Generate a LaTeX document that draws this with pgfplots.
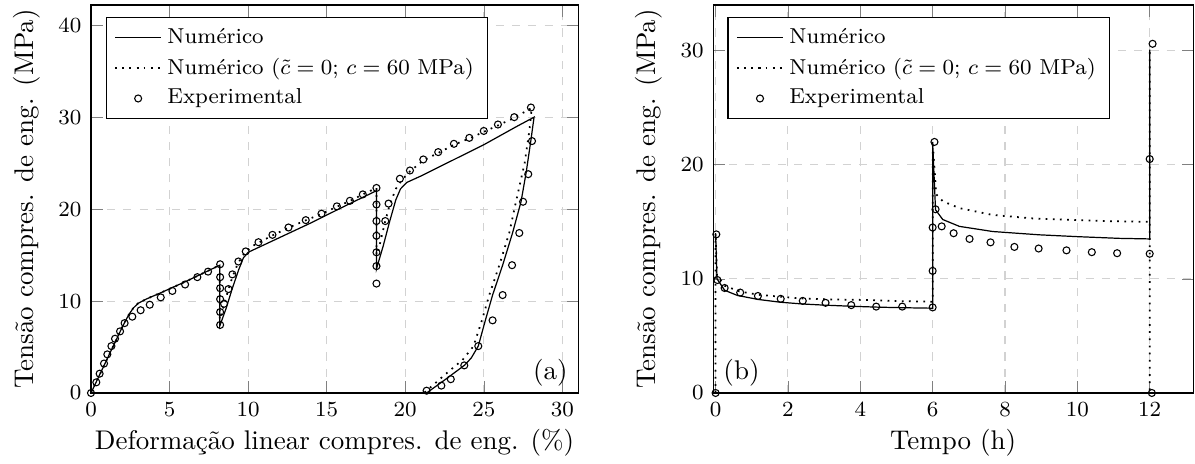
\documentclass[border=0pt]{standalone}
\usepackage{pgfplots}
\pgfplotsset{compat=1.18}

% experimental data, left plot (strain %, stress MPa)
\pgfplotstableread{
x y
0 0
0.34 1.16
0.55 2.1
0.83 3.2
1.04 4.2
1.3 5.1
1.53 5.9
1.85 6.7
2.14 7.6
2.63 8.3
3.16 9.0
3.74 9.6
4.44 10.4
5.18 11.1
5.99 11.8
6.77 12.6
7.45 13.2
8.22 14.0
8.22 12.6
8.22 11.4
8.22 10.2
8.22 8.8
8.22 7.4
8.47 9.7
8.75 11.3
9.0 12.9
9.38 14.3
9.85 15.4
10.66 16.4
11.55 17.2
12.57 18.0
13.67 18.8
14.67 19.5
15.65 20.3
16.48 20.9
17.3 21.6
18.17 22.3
18.17 20.5
18.17 18.7
18.17 17.1
18.17 15.3
18.17 13.8
18.17 11.9
18.73 18.7
18.94 20.6
19.66 23.3
20.3 24.2
21.15 25.4
22.1 26.2
23.1 27.1
24.08 27.75
25.0 28.5
25.9 29.2
26.94 30.0
28.0 31.05
28.07 27.4
27.83 23.8
27.5 20.8
27.26 17.4
26.8 13.9
26.2 10.65
25.56 7.9
24.65 5.1
23.76 3.0
22.9 1.5
22.3 0.8
21.36 0.25
}\expA

% experimental data, right plot (time h, stress MPa)
\pgfplotstableread{
x y
0.0 0
0.02 13.9
0.05 9.9
0.25 9.2
0.68 8.8
1.17 8.5
1.8 8.25
2.41 8.07
3.04 7.9
3.75 7.7
4.44 7.57
5.16 7.57
6.0 7.5
6.0 10.7
6.0 14.5
6.05 22.0
6.08 16.1
6.25 14.6
6.58 14.0
7.02 13.5
7.6 13.2
8.26 12.8
8.93 12.66
9.7 12.5
10.4 12.34
11.1 12.25
12.0 12.2
12.0 20.5
12.08 30.6
12.06 0
}\expB

\begin{document}
\begin{tikzpicture}
\pgfplotsset{
  painel/.style={
    scale only axis,
    height=143.7pt,
    ymin=0,
    grid=major,
    grid style={dashed, gray!35},
    label style={font=\normalsize},
    xlabel style={yshift=2pt},
    tick label style={font=\footnotesize},
    legend pos=north west,
    legend cell align=left,
    legend style={font=\footnotesize},
  },
  num/.style={black, line width=0.45pt, no marks},
  numc/.style={black, line width=0.65pt, dotted, no marks},
  expt/.style={black, only marks, mark=o, mark size=1.3pt, mark options={line width=0.4pt}},
}

\begin{axis}[painel,
    width=180.4pt,
    xmin=0, xmax=31, ymax=42.2,
    xtick={0,5,...,30}, ytick={0,10,...,40},
    xlabel={Deformação linear compres. de eng. (\%)},
    ylabel={Tensão compres. de eng. (MPa)},
]
\addplot[num] coordinates {
(0,0) (0.5,1.8) (1,3.6) (1.5,5.4) (2,7.2) (2.4,8.5) (2.7,9.25) (3.0,9.75)
(3.5,10.2) (4.44,10.9) (6,12.1) (8.2,13.9) (8.2,7.3) (8.6,9.2) (9.0,11.4)
(9.4,13.4) (9.7,14.7) (10.0,15.3) (10.5,15.7) (12,16.9) (14,18.5) (16,20.2)
(18.17,22.0) (18.17,13.5) (18.6,16.0) (19.0,18.6) (19.4,21.0) (19.7,22.2)
(20.1,22.9) (21,23.6) (23,25.3) (25,27.0) (27,28.9) (28.2,30.0)
(28.0,27.5) (27.7,24.0) (27.37,20.8) (26.83,17.4) (26.2,13.9) (25.56,10.65)
(25.1,7.9) (24.65,5.1) (24.2,3.8) (23.76,3.0) (22.5,1.4) (21.36,0)
};
\addlegendentry{Numérico}
\addplot[numc] coordinates {
(0,0) (0.5,1.8) (1,3.6) (1.5,5.4) (2,7.2) (2.4,8.5) (2.7,9.25) (3.0,9.75)
(3.5,10.2) (4.44,10.9) (6,12.1) (8.2,13.9) (8.2,8.0) (8.4,9.2) (8.7,11.0)
(9.0,12.6) (9.35,14.1) (9.8,15.3) (10.4,16.1) (11.5,17.1) (12.6,18.0)
(13.7,18.8) (14.7,19.5) (15.7,20.3) (16.5,20.9) (17.3,21.6) (18.17,22.3)
(18.17,15.0) (18.4,16.3) (18.7,18.5) (19.0,20.4) (19.4,22.2) (19.8,23.2)
(20.3,24.1) (21.15,25.3) (22.1,26.1) (23.1,27.0) (24.1,27.7) (25,28.4)
(25.9,29.1) (26.9,29.9) (28.05,31.0) (27.9,28.5) (27.6,25.0) (27.05,20.8)
(26.62,17.4) (25.99,13.9) (25.35,10.65) (24.88,7.9) (24.35,5.1) (23.65,3.6)
(22.6,2.1) (21.2,0)
};
\addlegendentry{Numérico ($\tilde{c}=0$; $c=60$ MPa)}
\addplot[expt] table[x=x, y=y] {\expA};
\addlegendentry{Experimental}
\node[anchor=south east, font=\normalsize, inner sep=1pt] at (rel axis cs:0.985,0.01) {(a)};
\end{axis}

\begin{axis}[painel,
    at={(230.4pt,0)},
    width=177.8pt,
    xmin=-0.07, xmax=13.2, ymax=34,
    xtick={0,2,...,12}, ytick={0,10,...,30},
    xlabel={Tempo (h)},
    ylabel={Tensão compres. de eng. (MPa)},
]
\addplot[num] coordinates {
(0,14.0) (0.04,10.0) (0.25,9.0) (0.6,8.55) (1.17,8.2) (1.8,7.95) (2.4,7.8)
(3.0,7.7) (3.75,7.6) (4.5,7.52) (5.2,7.47) (6.0,7.43) (6.0,22.0) (6.08,16.05)
(6.28,15.2) (6.74,14.6) (7.66,14.15) (8.95,13.86) (10,13.7) (11.16,13.55)
(12.0,13.5) (12.0,30.1)
};
\addlegendentry{Numérico}
\addplot[numc] coordinates {
(0,0) (0,14.0) (0.04,10.3) (0.25,9.4) (0.66,8.9) (1.2,8.6) (2.3,8.3) (3.2,8.2)
(4.16,8.15) (5.0,8.05) (5.9,8.0) (6.0,8.0) (6.0,22.0) (6.1,17.4) (6.28,16.8)
(6.74,16.2) (7.66,15.6) (8.76,15.3) (10,15.15) (11.0,15.05) (11.9,15.0)
(12.0,15.0) (12.0,30.1) (12.0,0)
};
\addlegendentry{Numérico ($\tilde{c}=0$; $c=60$ MPa)}
\addplot[expt] table[x=x, y=y] {\expB};
\addlegendentry{Experimental}
\node[anchor=south west, font=\normalsize, inner sep=1pt] at (rel axis cs:0.015,0.01) {(b)};
\end{axis}
\pgfresetboundingbox
\path[use as bounding box] (-33.7pt,-26.3pt) rectangle (408.9pt,145.55pt);
\end{tikzpicture}
\end{document}
